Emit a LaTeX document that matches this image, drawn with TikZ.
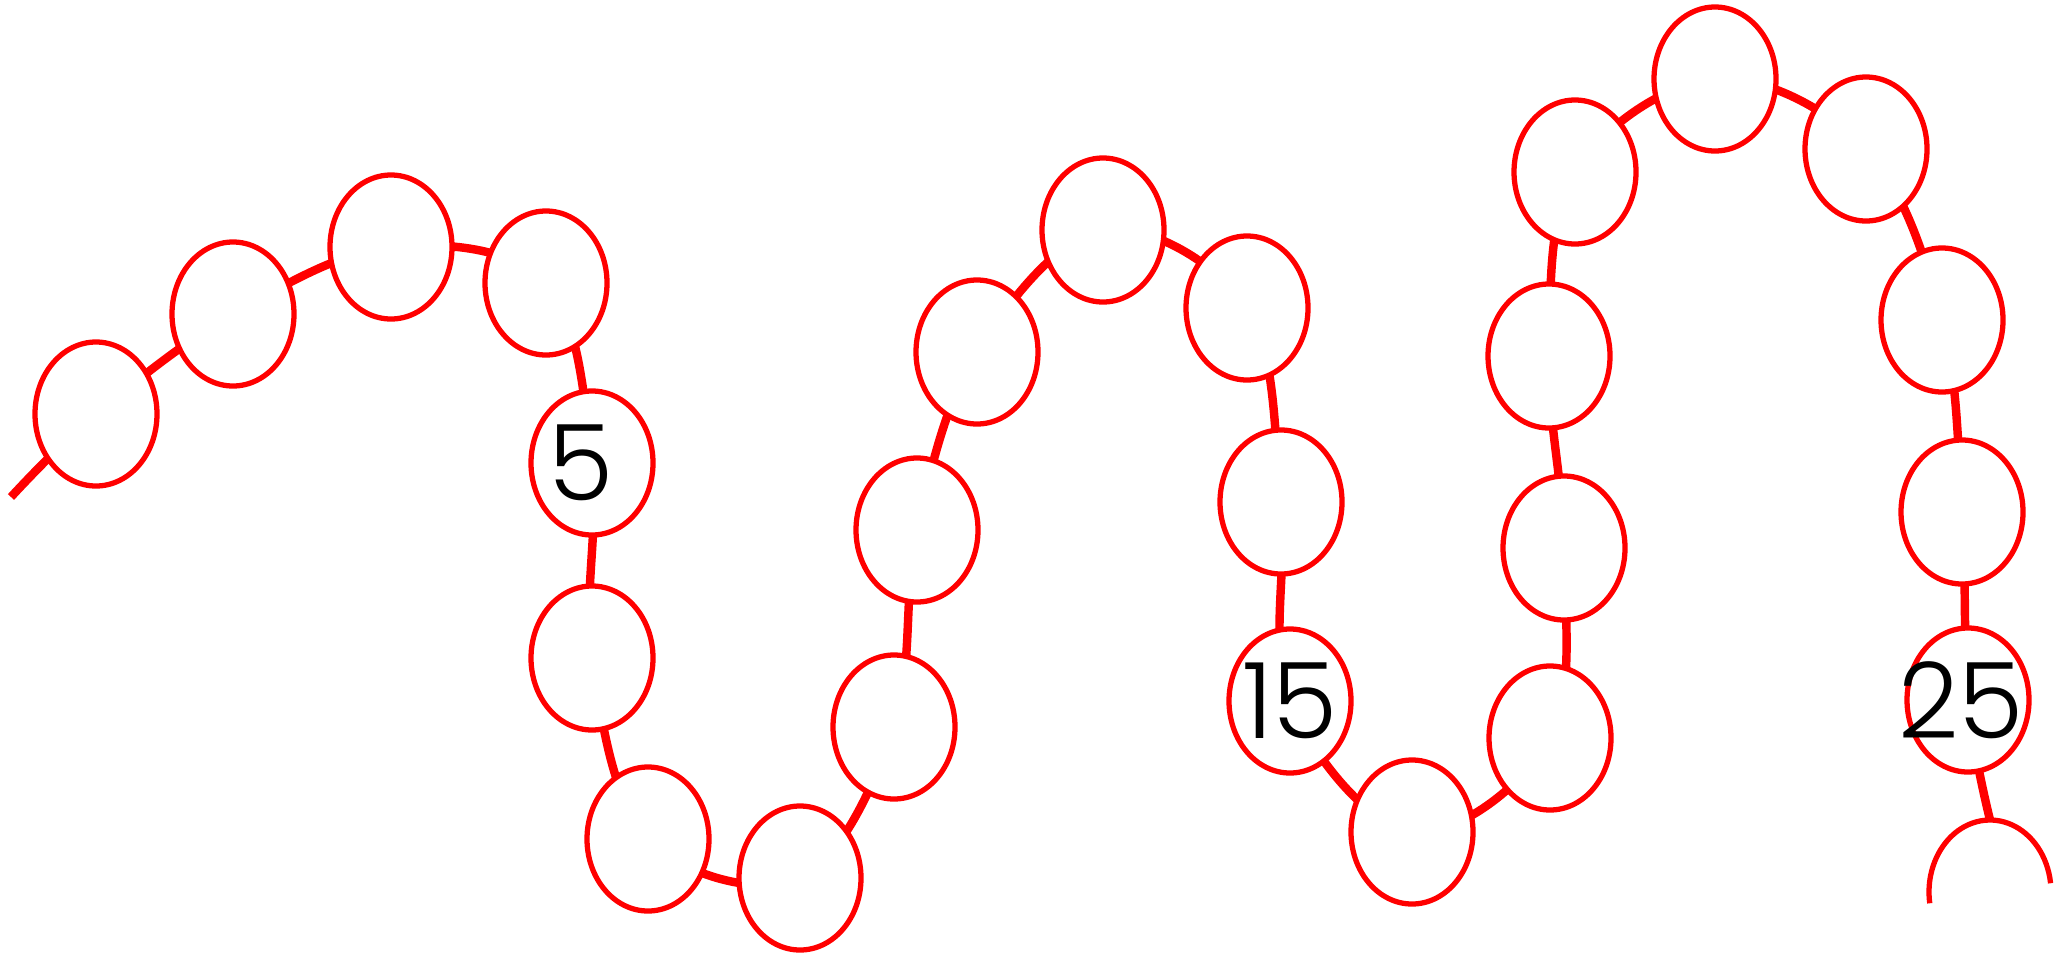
\documentclass[tikz,border=0pt]{standalone}
\usepackage{fontspec}
\newfontfamily\numfont{Poppins}[UprightFont=* Light]
\usetikzlibrary{shapes.geometric,backgrounds}

\begin{document}
\begin{tikzpicture}[
  bead/.style={draw=red, fill=white, ellipse, line width=1.5pt, minimum width=1.22cm, minimum height=1.44cm, inner sep=0pt},
  num/.style={font=\numfont\fontsize{30}{30}\selectfont, inner sep=0pt},
  thread/.style={red, line width=2.4pt}]
  \useasboundingbox (0,0) rectangle (20.62,9.57);

  % beads
  \foreach \x/\y [count=\i] in {0.96/5.43, 2.33/6.43, 3.91/7.10, 5.46/6.74, 5.92/4.94,
      5.92/2.99, 6.48/1.18, 8.00/0.79, 8.94/2.30, 9.17/4.27, 9.77/6.05, 11.03/7.27,
      12.47/6.49, 12.81/4.55, 12.90/2.56, 14.12/1.25, 15.50/2.19, 15.64/4.09,
      15.49/6.01, 15.75/7.85, 17.15/8.78, 18.66/8.08, 19.42/6.37, 19.62/4.45, 19.68/2.57}
    \node[bead] (b\i) at (\x,\y) {};

  % numbers
  \node[num, xshift=-0.11cm] (n5) at (b5) {5};
  \node[num] (n15) at (b15) {15};
  \node[num, xshift=-0.07cm] (n25) at (b25) {25};

  % last bead, cut off by the page
  \coordinate (b26) at (19.90,0.65);
  \coordinate (b26top) at ([yshift=0.72cm]b26);
  \draw[red, line width=1.5pt] ([shift={(189:0.61cm and 0.72cm)}]b26)
    arc[start angle=189, end angle=7, x radius=0.61cm, y radius=0.72cm];

  % thread behind the beads
  \coordinate (start) at (0.11,4.60);
  \begin{scope}[on background layer]
    \draw[thread] plot[smooth, tension=0.6] coordinates {(start) (b1) (b2) (b3) (b4) (b5)
      (b6) (b7) (b8) (b9) (b10) (b11) (b12) (b13) (b14) (b15) (b16) (b17) (b18) (b19)
      (b20) (b21) (b22) (b23) (b24) (b25) (b26top)};
  \end{scope}
\end{tikzpicture}
\end{document}
